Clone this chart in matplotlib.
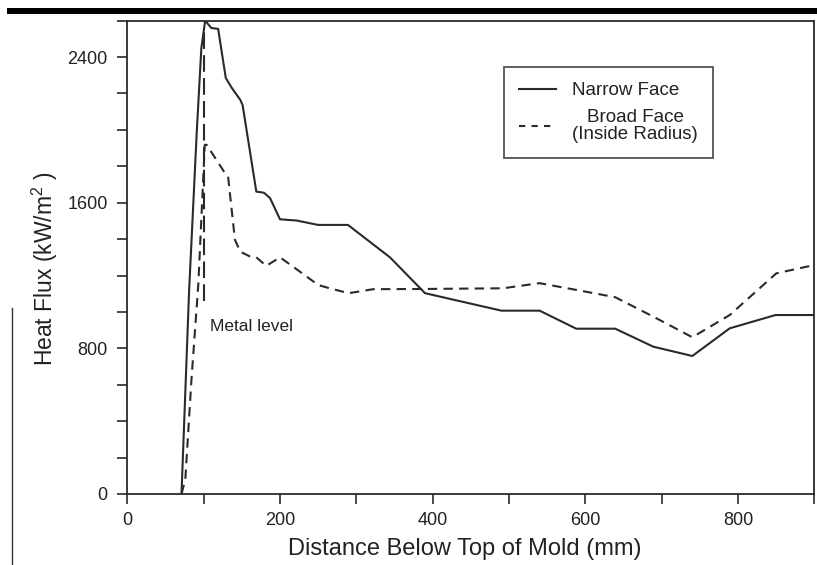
import matplotlib
matplotlib.use("Agg")
import matplotlib.pyplot as plt
from matplotlib.lines import Line2D
from matplotlib.patches import Rectangle
from matplotlib.ticker import MultipleLocator

plt.rcParams["font.family"] = ["Liberation Sans", "DejaVu Sans"]
plt.rcParams["mathtext.fontset"] = "custom"
plt.rcParams["mathtext.rm"] = "Liberation Sans"
plt.rcParams["mathtext.it"] = "Liberation Sans:italic"

# Heat flux profiles along the mold (distance in mm, flux in kW/m^2)
narrow_x = [71, 81, 91, 97, 102, 110, 119, 129, 137, 148, 151, 169, 179, 187,
            200, 222, 250, 289, 344, 390, 490, 540, 588, 639, 689, 740, 789,
            849, 900]
narrow_y = [0, 1120, 1990, 2450, 2600, 2560, 2555, 2285, 2230, 2165, 2137,
            1661, 1655, 1625, 1509, 1502, 1478, 1478, 1300, 1103, 1007, 1007,
            908, 908, 809, 758, 910, 983, 983]

broad_x = [71, 76, 84, 93, 101.5, 104, 128, 132, 141, 148, 161, 169, 182, 200,
           217, 250, 265, 290, 322, 383, 492, 540, 588, 639, 689, 740, 789,
           850, 900]
broad_y = [0, 80, 626, 1150, 1918, 1918, 1762, 1744, 1396, 1331, 1304, 1300,
           1253, 1300, 1249, 1148, 1130, 1103, 1125, 1126, 1130, 1158, 1121,
           1081, 974, 861, 983, 1212, 1258]

metal_level_x = [100, 100]
metal_level_y = [1060, 2560]

x_ticks = [0, 200, 400, 600, 800]
y_ticks = [0, 800, 1600, 2400]

ink = "#2a2a2a"

fig = plt.figure(figsize=(8.17, 5.65), dpi=100)
ax = fig.add_axes([0.1558, 0.1257, 0.8411, 0.8377])

ax.plot(narrow_x, narrow_y, color=ink, lw=1.5, solid_joinstyle="round")
ax.plot(broad_x, broad_y, color=ink, lw=1.5, linestyle=(0, (4.5, 3)))
ax.plot(metal_level_x, metal_level_y, color=ink, lw=1.5,
        linestyle=(0, (8, 3)))
ax.text(108, 918, "Metal level", fontsize=12.5, color="#222222",
        ha="left", va="center")

ax.set_xlim(0, 900)
ax.set_ylim(0, 2600)
ax.set_xticks(x_ticks)
ax.set_yticks(y_ticks)
ax.xaxis.set_minor_locator(MultipleLocator(100))
ax.yaxis.set_minor_locator(MultipleLocator(200))
ax.tick_params(which="both", direction="out", length=7, width=1.2,
               color=ink)
ax.tick_params(axis="x", which="major", labelsize=13, pad=6,
               labelcolor="#222222")
ax.tick_params(axis="y", which="major", labelsize=13, pad=7,
               labelcolor="#222222")
for s in ax.spines.values():
    s.set_color(ink)
    s.set_linewidth(1.3)

ax.set_xlabel("Distance Below Top of Mold (mm)", fontsize=17,
              color="#222222")
ax.set_ylabel(r"Heat Flux (kW/m$^{\mathregular{2}}$ )", fontsize=16.5,
              color="#222222")
ax.xaxis.set_label_coords(0.491, -0.094)
ax.yaxis.set_label_coords(-0.098, 0.475)

handles = [
    Line2D([], [], color=ink, lw=1.5),
    Line2D([], [], color=ink, lw=1.5, linestyle=(0, (3, 3))),
]
leg = ax.legend(handles, ["Narrow Face", "Broad Face\n(Inside Radius)"],
                loc="upper left", bbox_to_anchor=(0.548, 0.902),
                fontsize=13.5, frameon=True, fancybox=False,
                handlelength=2.0, handletextpad=0.85, borderpad=0.8,
                labelspacing=0.55, borderaxespad=0)
leg.get_frame().set_edgecolor(ink)
leg.get_frame().set_linewidth(1.3)
for t in leg.get_texts():
    t.set_multialignment("center")
    t.set_linespacing(0.95)
    t.set_color("#222222")

# Heavy rule across the top and thin rule at the left edge of the page
fig.add_artist(Rectangle((7 / 817, 1 - 14 / 565), 810 / 817, 6 / 565,
                         transform=fig.transFigure, color="black", lw=0))
fig.add_artist(Line2D([12 / 817, 12 / 817], [0, 1 - 308 / 565],
                      transform=fig.transFigure, color="#333333", lw=1.0))

fig.savefig("out.png", dpi=100)
